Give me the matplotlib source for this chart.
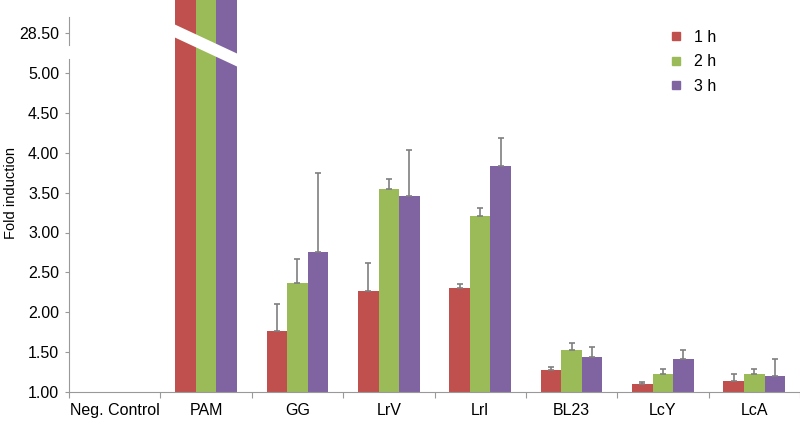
import numpy as np
import matplotlib.pyplot as plt
from matplotlib.patches import Polygon
from matplotlib.lines import Line2D

plt.rcParams['font.family'] = ['Liberation Sans', 'DejaVu Sans']

categories = ["Neg. Control", "PAM", "GG", "LrV", "Lrl", "BL23", "LcY", "LcA"]
series = ["1 h", "2 h", "3 h"]
colors = ["#C0504D", "#9BBB59", "#8064A2"]

# fold induction per time point (PAM is off the scale, ~29)
h1 = [1.00, 29.0, 1.77, 2.27, 2.30, 1.28, 1.10, 1.14]
h2 = [1.00, 29.0, 2.37, 3.55, 3.21, 1.53, 1.23, 1.23]
h3 = [1.00, 29.0, 2.75, 3.46, 3.83, 1.44, 1.42, 1.20]
# upper error (SD)
e1 = [0, 0, 0.33, 0.345, 0.05, 0.03, 0.02, 0.085]
e2 = [0, 0, 0.30, 0.125, 0.10, 0.09, 0.06, 0.06]
e3 = [0, 0, 0.99, 0.57, 0.35, 0.13, 0.11, 0.21]

values = [h1, h2, h3]
errors = [e1, e2, e3]

W, H = 800, 422
fig = plt.figure(figsize=(W / 100, H / 100), dpi=100)
ax = fig.add_axes([69 / W, 1 - 392 / H, 731 / W, 347 / H])
axt = fig.add_axes([69 / W, 1 - 45 / H, 731 / W, 45 / H])

x = np.arange(len(categories))
width = 0.225
grey = "#999999"

for i in range(3):
    v = np.array(values[i])
    pos = x + (i - 1) * width
    for a in (ax, axt):
        a.bar(pos, v - 1, bottom=1, width=width, color=colors[i], linewidth=0)
    err = np.array(errors[i])
    m = err > 0
    ax.errorbar(pos[m], v[m], yerr=[np.zeros(m.sum()), err[m]], fmt='none',
                ecolor="#7F7F7F", elinewidth=1.2, capsize=2.5, capthick=1.2)

# lower axes
ax.set_xlim(-0.5, len(categories) - 0.5)
ax.set_ylim(1, 1 + 347 / 79.75)
ax.set_yticks(np.arange(1, 5.01, 0.5))
ax.set_yticklabels(["%.2f" % t for t in np.arange(1, 5.01, 0.5)])
ax.set_xticks(np.arange(-0.5, len(categories), 1))
ax.set_xticklabels([])
ax.set_xticks(x, minor=True)
ax.set_xticklabels(categories, minor=True)
ax.tick_params(axis='x', which='major', length=4, color=grey, direction='out')
ax.tick_params(axis='x', which='minor', length=0, pad=8, labelsize=11.5)
ax.tick_params(axis='y', length=3, color=grey, labelsize=11.5, pad=4)
for s in ("top", "right"):
    ax.spines[s].set_visible(False)
ax.spines["left"].set_bounds(1, 5.17)
ax.spines["left"].set_color(grey)
ax.spines["bottom"].set_color(grey)

# upper axes (break)
axt.set_xlim(-0.5, len(categories) - 0.5)
axt.set_ylim(28.35, 28.5 + 33 / 80)
axt.set_yticks([28.5])
axt.set_yticklabels(["28.50"])
axt.tick_params(axis='x', bottom=False, labelbottom=False)
axt.tick_params(axis='y', length=3, color=grey, labelsize=11.5, pad=4)
for s in ("top", "right", "bottom"):
    axt.spines[s].set_visible(False)
axt.spines["left"].set_bounds(28.35, 28.7)
axt.spines["left"].set_color(grey)
axt.patch.set_visible(False)

# white diagonal cut across the PAM bars
pts = [(174, 24.1), (240, 54.9), (240, 67.9), (174, 37.1)]
band = Polygon([(px / W, 1 - py / H) for px, py in pts], closed=True,
               transform=fig.transFigure, facecolor="white", edgecolor="none", zorder=10)
fig.add_artist(band)

fig.text(11 / W, 1 - 193 / H, "Fold induction", rotation=90, ha="center", va="center", fontsize=10.5)

handles = [Line2D([], [], marker='s', linestyle='none', markersize=6,
                  markerfacecolor=c, markeredgecolor=c) for c in colors]
fig.legend(handles, series, loc="upper left", bbox_to_anchor=(660 / W, 1 - 22 / H),
           frameon=False, fontsize=11.5, handlelength=1.0, handletextpad=0.6,
           labelspacing=0.58, borderpad=0)

fig.savefig("out.png", dpi=100)
